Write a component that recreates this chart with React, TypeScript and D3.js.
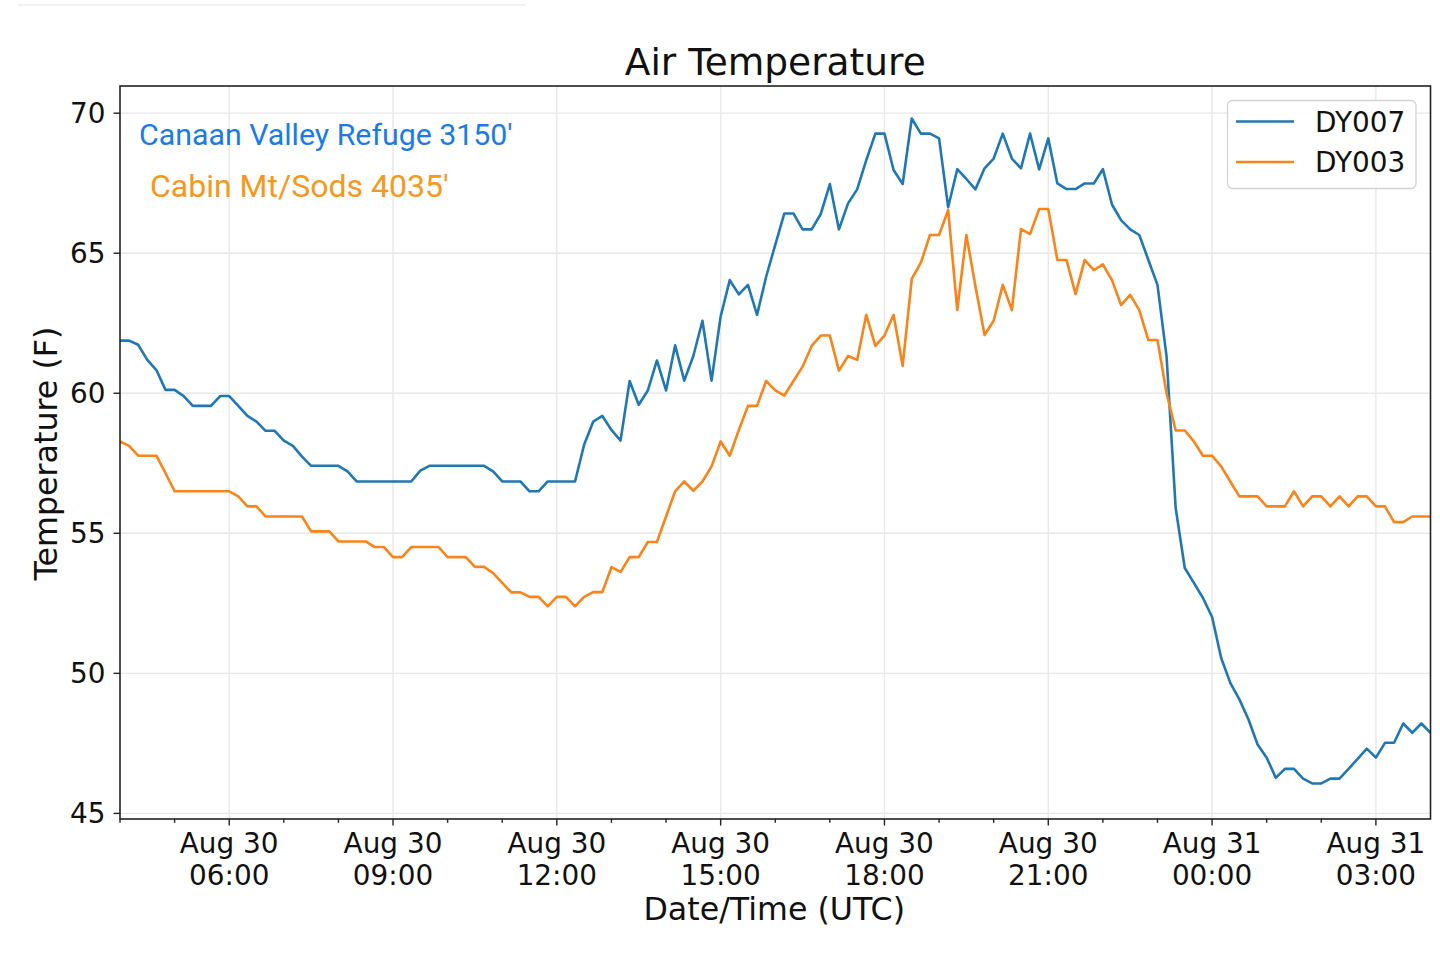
import React from "react";
import * as d3 from "d3";

// ---- Data (10-minute samples, Aug 30 04:00 UTC to Aug 31 04:00 UTC) ----
const startTimeUTC = Date.UTC(2019, 7, 30, 4, 0);
const stepMinutes = 10;

const dy007: number[] = [
  61.88, 61.88, 61.73, 61.19, 60.83, 60.12, 60.12, 59.9, 59.55, 59.55,
  59.55, 59.9, 59.9, 59.55, 59.19, 58.99, 58.66, 58.66, 58.31, 58.12,
  57.74, 57.41, 57.41, 57.41, 57.41, 57.21, 56.85, 56.85, 56.85, 56.85,
  56.85, 56.85, 56.85, 57.24, 57.41, 57.41, 57.41, 57.41, 57.41, 57.41,
  57.41, 57.21, 56.85, 56.85, 56.85, 56.5, 56.5, 56.85, 56.85, 56.85,
  56.85, 58.16, 58.99, 59.19, 58.69, 58.31, 60.44, 59.59, 60.1, 61.17,
  60.1, 61.71, 60.45, 61.33, 62.59, 60.45, 62.74, 64.04, 63.53, 63.87,
  62.8, 64.16, 65.3, 66.42, 66.42, 65.85, 65.85, 66.4, 67.47, 65.85,
  66.78, 67.28, 68.32, 69.27, 69.27, 67.97, 67.47, 69.81, 69.27, 69.27,
  69.1, 66.64, 68.0, 67.65, 67.28, 68.03, 68.38, 69.27, 68.38, 68.03,
  69.27, 67.99, 69.1, 67.49, 67.29, 67.29, 67.49, 67.49, 68.0, 66.74,
  66.18, 65.85, 65.65, 64.76, 63.87, 61.31, 55.9, 53.76, 53.23, 52.69,
  52.01, 50.55, 49.66, 49.07, 48.35, 47.46, 46.99, 46.27, 46.59, 46.59,
  46.24, 46.07, 46.07, 46.24, 46.24, 46.59, 46.95, 47.31, 46.99, 47.52,
  47.52, 48.21, 47.88, 48.21, 47.88,
];

const dy003: number[] = [
  58.28, 58.12, 57.77, 57.77, 57.77, 57.15, 56.5, 56.5, 56.5, 56.5,
  56.5, 56.5, 56.5, 56.32, 55.96, 55.96, 55.6, 55.6, 55.6, 55.6,
  55.6, 55.07, 55.07, 55.07, 54.71, 54.71, 54.71, 54.71, 54.51, 54.51,
  54.15, 54.15, 54.51, 54.51, 54.51, 54.51, 54.15, 54.15, 54.15, 53.8,
  53.8, 53.58, 53.23, 52.89, 52.89, 52.73, 52.73, 52.39, 52.73, 52.73,
  52.39, 52.73, 52.9, 52.9, 53.79, 53.62, 54.15, 54.15, 54.69, 54.69,
  55.6, 56.5, 56.85, 56.52, 56.85, 57.39, 58.28, 57.77, 58.69, 59.55,
  59.55, 60.44, 60.1, 59.92, 60.44, 60.95, 61.69, 62.06, 62.06, 60.81,
  61.33, 61.19, 62.8, 61.69, 62.06, 62.8, 60.98, 64.08, 64.66, 65.65,
  65.65, 66.54, 62.97, 65.65, 63.81, 62.08, 62.59, 63.87, 62.97, 65.86,
  65.68, 66.58, 66.58, 64.76, 64.76, 63.54, 64.76, 64.4, 64.6, 64.04,
  63.15, 63.51, 62.97, 61.9, 61.9, 60.0, 58.67, 58.67, 58.28, 57.77,
  57.77, 57.39, 56.85, 56.32, 56.32, 56.32, 55.96, 55.96, 55.96, 56.5,
  55.96, 56.32, 56.32, 55.96, 56.32, 55.96, 56.32, 56.32, 55.96, 55.96,
  55.4, 55.4, 55.6, 55.6, 55.6,
];

const seriesNames = ["DY007", "DY003"];
const seriesColors = ["#1f77b4", "#f8841a"];

const xTickTimes = [
  Date.UTC(2019, 7, 30, 6), Date.UTC(2019, 7, 30, 9), Date.UTC(2019, 7, 30, 12),
  Date.UTC(2019, 7, 30, 15), Date.UTC(2019, 7, 30, 18), Date.UTC(2019, 7, 30, 21),
  Date.UTC(2019, 7, 31, 0), Date.UTC(2019, 7, 31, 3),
];
const xTickLine1 = ["Aug 30", "Aug 30", "Aug 30", "Aug 30", "Aug 30", "Aug 30", "Aug 31", "Aug 31"];
const xTickLine2 = ["06:00", "09:00", "12:00", "15:00", "18:00", "21:00", "00:00", "03:00"];
const yTicks = [45, 50, 55, 60, 65, 70];

const annotations = ["Canaan Valley Refuge 3150'", "Cabin Mt/Sods 4035'"];
const annotationColors = ["#1a7be8", "#f5981c"];

const FONT = "'DejaVu Sans', sans-serif";

export default function App() {
  const W = 1440, H = 953;
  const left = 120, right = 1430.5, top = 86, bottom = 819;

  const x = d3.scaleUtc()
    .domain([new Date(startTimeUTC), new Date(startTimeUTC + 24 * 3600 * 1000)])
    .range([left, right]);
  const y = d3.scaleLinear().domain([44.8, 70.97]).range([bottom, top]);

  const times = dy007.map((_, i) => new Date(startTimeUTC + i * stepMinutes * 60000));
  const line = d3.line<number>()
    .x((_, i) => x(times[i]))
    .y((d) => y(d));

  const minorTicks = d3.utcHour.range(x.domain()[0], x.domain()[1])
    .filter((t) => !xTickTimes.includes(t.getTime()));

  const series = [dy007, dy003];
  const tickFs = 27.9;
  const labelFs = 31.7;

  return (
    <svg width={W} height={H} style={{ position: "absolute", left: 0, top: 0, background: "#fff" }} fontFamily={FONT}>
      <rect x={0} y={0} width={W} height={H} fill="#fff" />
      <line x1={18} x2={525} y1={5} y2={5} stroke="#ececec" strokeWidth={1.5} />
      <defs>
        <clipPath id="plotclip">
          <rect x={left} y={top} width={right - left} height={bottom - top} />
        </clipPath>
      </defs>
      {/* grid */}
      <g stroke="#e8e8e8" strokeWidth={1.4}>
        {xTickTimes.map((t) => (
          <line key={"gx" + t} x1={x(new Date(t))} x2={x(new Date(t))} y1={top} y2={bottom} />
        ))}
        {yTicks.map((v) => (
          <line key={"gy" + v} x1={left} x2={right} y1={y(v)} y2={y(v)} />
        ))}
      </g>
      {/* series */}
      <g clipPath="url(#plotclip)" fill="none" strokeWidth={2.6} strokeLinejoin="round">
        {series.map((s, k) => (
          <path key={seriesNames[k]} d={line(s) || ""} stroke={seriesColors[k]} />
        ))}
      </g>
      {/* annotations */}
      <text x={139} y={145} fontFamily="Roboto, sans-serif" fontSize={30.3} fill={annotationColors[0]}>{annotations[0]}</text>
      <text x={150} y={196.5} fontFamily="Roboto, sans-serif" fontSize={32} fill={annotationColors[1]}>{annotations[1]}</text>
      {/* legend */}
      <g>
        <rect x={1227.5} y={100.5} width={188.5} height={88} rx={5} fill="#fff" fillOpacity={0.85} stroke="#d4d4d4" strokeWidth={1.3} />
        {seriesNames.map((n, k) => (
          <g key={"lg" + n}>
            <line x1={1236} x2={1294} y1={121.5 + k * 40.5} y2={121.5 + k * 40.5} stroke={seriesColors[k]} strokeWidth={2.6} />
            <text x={1315} y={131.5 + k * 40.5} fontSize={tickFs} fill="#111">{n}</text>
          </g>
        ))}
      </g>
      {/* frame */}
      <rect x={left} y={top} width={right - left} height={bottom - top} fill="none" stroke="#222" strokeWidth={1.6} />
      {/* ticks */}
      <g stroke="#222" strokeWidth={1.4}>
        {xTickTimes.map((t) => (
          <line key={"tx" + t} x1={x(new Date(t))} x2={x(new Date(t))} y1={bottom} y2={bottom + 6.5} />
        ))}
        {minorTicks.map((t) => (
          <line key={"mx" + t.getTime()} x1={x(t)} x2={x(t)} y1={bottom} y2={bottom + 3.8} />
        ))}
        {yTicks.map((v) => (
          <line key={"ty" + v} x1={left - 6.5} x2={left} y1={y(v)} y2={y(v)} />
        ))}
      </g>
      <g fontSize={tickFs} fill="#111" textAnchor="middle">
        {xTickTimes.map((t, i) => (
          <g key={"lx" + t}>
            <text x={x(new Date(t))} y={852.5}>{xTickLine1[i]}</text>
            <text x={x(new Date(t))} y={884.5}>{xTickLine2[i]}</text>
          </g>
        ))}
      </g>
      <g fontSize={tickFs} fill="#111" textAnchor="end">
        {yTicks.map((v) => (
          <text key={"ly" + v} x={105.5} y={y(v) + 10}>{v}</text>
        ))}
      </g>
      {/* axis labels and title */}
      <text x={(left + right) / 2 - 1} y={920} fontSize={labelFs} textAnchor="middle" fill="#111">Date/Time (UTC)</text>
      <text transform={`translate(57,453.5) rotate(-90)`} fontSize={labelFs} textAnchor="middle" fill="#111">Temperature (F)</text>
      <text x={(left + right) / 2} y={74.5} fontSize={37.5} textAnchor="middle" fill="#111">Air Temperature</text>
    </svg>
  );
}
